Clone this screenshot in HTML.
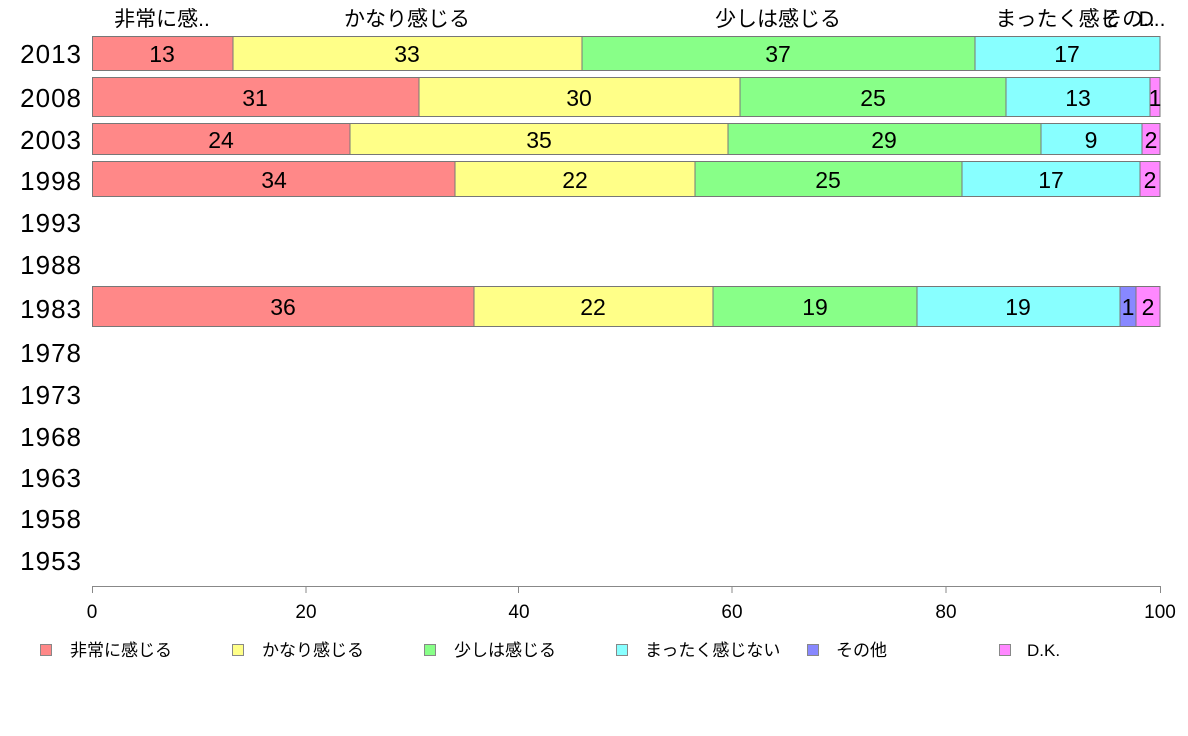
<!DOCTYPE html>
<html><head><meta charset="utf-8"><style>body{margin:0;background:#fff}svg{display:block}text{font-family:"Liberation Sans","Noto Sans CJK JP",sans-serif}</style></head><body>
<svg width="1188" height="736" viewBox="0 0 1188 736">
<g font-size="21" text-anchor="middle" fill="#000">
<text x="162" y="26">非常に感..</text>
<text x="407" y="26">かなり感じる</text>
<text x="778" y="26">少しは感じる</text>
<text x="1058" y="26">まったく感じ</text>
<text x="1128" y="26">その..</text>
<text x="1152" y="26">D..</text>
</g>
<g font-size="26" text-anchor="end" fill="#000" letter-spacing="1">
<text x="82" y="63">2013</text><text x="82" y="107">2008</text><text x="82" y="149">2003</text><text x="82" y="190">1998</text>
<text x="82" y="232">1993</text><text x="82" y="274">1988</text><text x="82" y="318">1983</text><text x="82" y="362">1978</text>
<text x="82" y="404">1973</text><text x="82" y="446">1968</text><text x="82" y="487">1963</text><text x="82" y="528">1958</text><text x="82" y="570">1953</text>
</g>
<g stroke="#777" stroke-width="1">
<rect x="92.5" y="36.5" width="140.5" height="34" fill="#ff8888"/>
<rect x="233" y="36.5" width="349" height="34" fill="#ffff88"/>
<rect x="582" y="36.5" width="393" height="34" fill="#88ff88"/>
<rect x="975" y="36.5" width="185" height="34" fill="#88ffff"/>
<rect x="92.5" y="77.5" width="326.5" height="39" fill="#ff8888"/>
<rect x="419" y="77.5" width="321" height="39" fill="#ffff88"/>
<rect x="740" y="77.5" width="266" height="39" fill="#88ff88"/>
<rect x="1006" y="77.5" width="144" height="39" fill="#88ffff"/>
<rect x="1150" y="77.5" width="10" height="39" fill="#ff88ff"/>
<rect x="92.5" y="123.5" width="257.5" height="31" fill="#ff8888"/>
<rect x="350" y="123.5" width="378" height="31" fill="#ffff88"/>
<rect x="728" y="123.5" width="313" height="31" fill="#88ff88"/>
<rect x="1041" y="123.5" width="101" height="31" fill="#88ffff"/>
<rect x="1142" y="123.5" width="18" height="31" fill="#ff88ff"/>
<rect x="92.5" y="161.5" width="362.5" height="35" fill="#ff8888"/>
<rect x="455" y="161.5" width="240" height="35" fill="#ffff88"/>
<rect x="695" y="161.5" width="267" height="35" fill="#88ff88"/>
<rect x="962" y="161.5" width="178" height="35" fill="#88ffff"/>
<rect x="1140" y="161.5" width="20" height="35" fill="#ff88ff"/>
<rect x="92.5" y="286.5" width="381.5" height="40" fill="#ff8888"/>
<rect x="474" y="286.5" width="239" height="40" fill="#ffff88"/>
<rect x="713" y="286.5" width="204" height="40" fill="#88ff88"/>
<rect x="917" y="286.5" width="203" height="40" fill="#88ffff"/>
<rect x="1120" y="286.5" width="16" height="40" fill="#8888ff"/>
<rect x="1136" y="286.5" width="24" height="40" fill="#ff88ff"/>
</g>
<g font-size="23" text-anchor="middle" fill="#000">
<text x="162" y="62">13</text><text x="407" y="62">33</text><text x="778" y="62">37</text><text x="1067" y="62">17</text>
<text x="255" y="106">31</text><text x="579" y="106">30</text><text x="873" y="106">25</text><text x="1078" y="106">13</text><text x="1155" y="106">1</text>
<text x="221" y="148">24</text><text x="539" y="148">35</text><text x="884" y="148">29</text><text x="1091" y="148">9</text><text x="1151" y="148">2</text>
<text x="274" y="188">34</text><text x="575" y="188">22</text><text x="828" y="188">25</text><text x="1051" y="188">17</text><text x="1150" y="188">2</text>
<text x="283" y="315">36</text><text x="593" y="315">22</text><text x="815" y="315">19</text><text x="1018" y="315">19</text><text x="1128" y="315">1</text><text x="1148" y="315">2</text>
</g>
<g stroke="#888" stroke-width="1">
<line x1="92.5" y1="586.5" x2="1160.5" y2="586.5"/>
<line x1="92.5" y1="586" x2="92.5" y2="593"/><line x1="306" y1="586" x2="306" y2="593"/><line x1="518.5" y1="586" x2="518.5" y2="593"/><line x1="732" y1="586" x2="732" y2="593"/><line x1="946" y1="586" x2="946" y2="593"/><line x1="1160.5" y1="586" x2="1160.5" y2="593"/>
</g>
<g font-size="19" text-anchor="middle" fill="#000">
<text x="92" y="618">0</text><text x="306" y="618">20</text><text x="519" y="618">40</text><text x="732" y="618">60</text><text x="946" y="618">80</text><text x="1160" y="618">100</text>
</g>
<g stroke="#888" stroke-width="1">
<rect x="40.5" y="644.5" width="11" height="11" fill="#ff8888"/>
<rect x="232.5" y="644.5" width="11" height="11" fill="#ffff88"/>
<rect x="424.5" y="644.5" width="11" height="11" fill="#88ff88"/>
<rect x="616.5" y="644.5" width="11" height="11" fill="#88ffff"/>
<rect x="807.5" y="644.5" width="11" height="11" fill="#8888ff"/>
<rect x="999.5" y="644.5" width="11" height="11" fill="#ff88ff"/>
</g>
<g font-size="17" fill="#000">
<text x="70" y="656">非常に感じる</text><text x="262" y="656">かなり感じる</text><text x="454" y="656">少しは感じる</text><text x="645" y="656">まったく感じない</text><text x="836" y="656">その他</text><text x="1027" y="656">D.K.</text>
</g>
</svg>
</body></html>
